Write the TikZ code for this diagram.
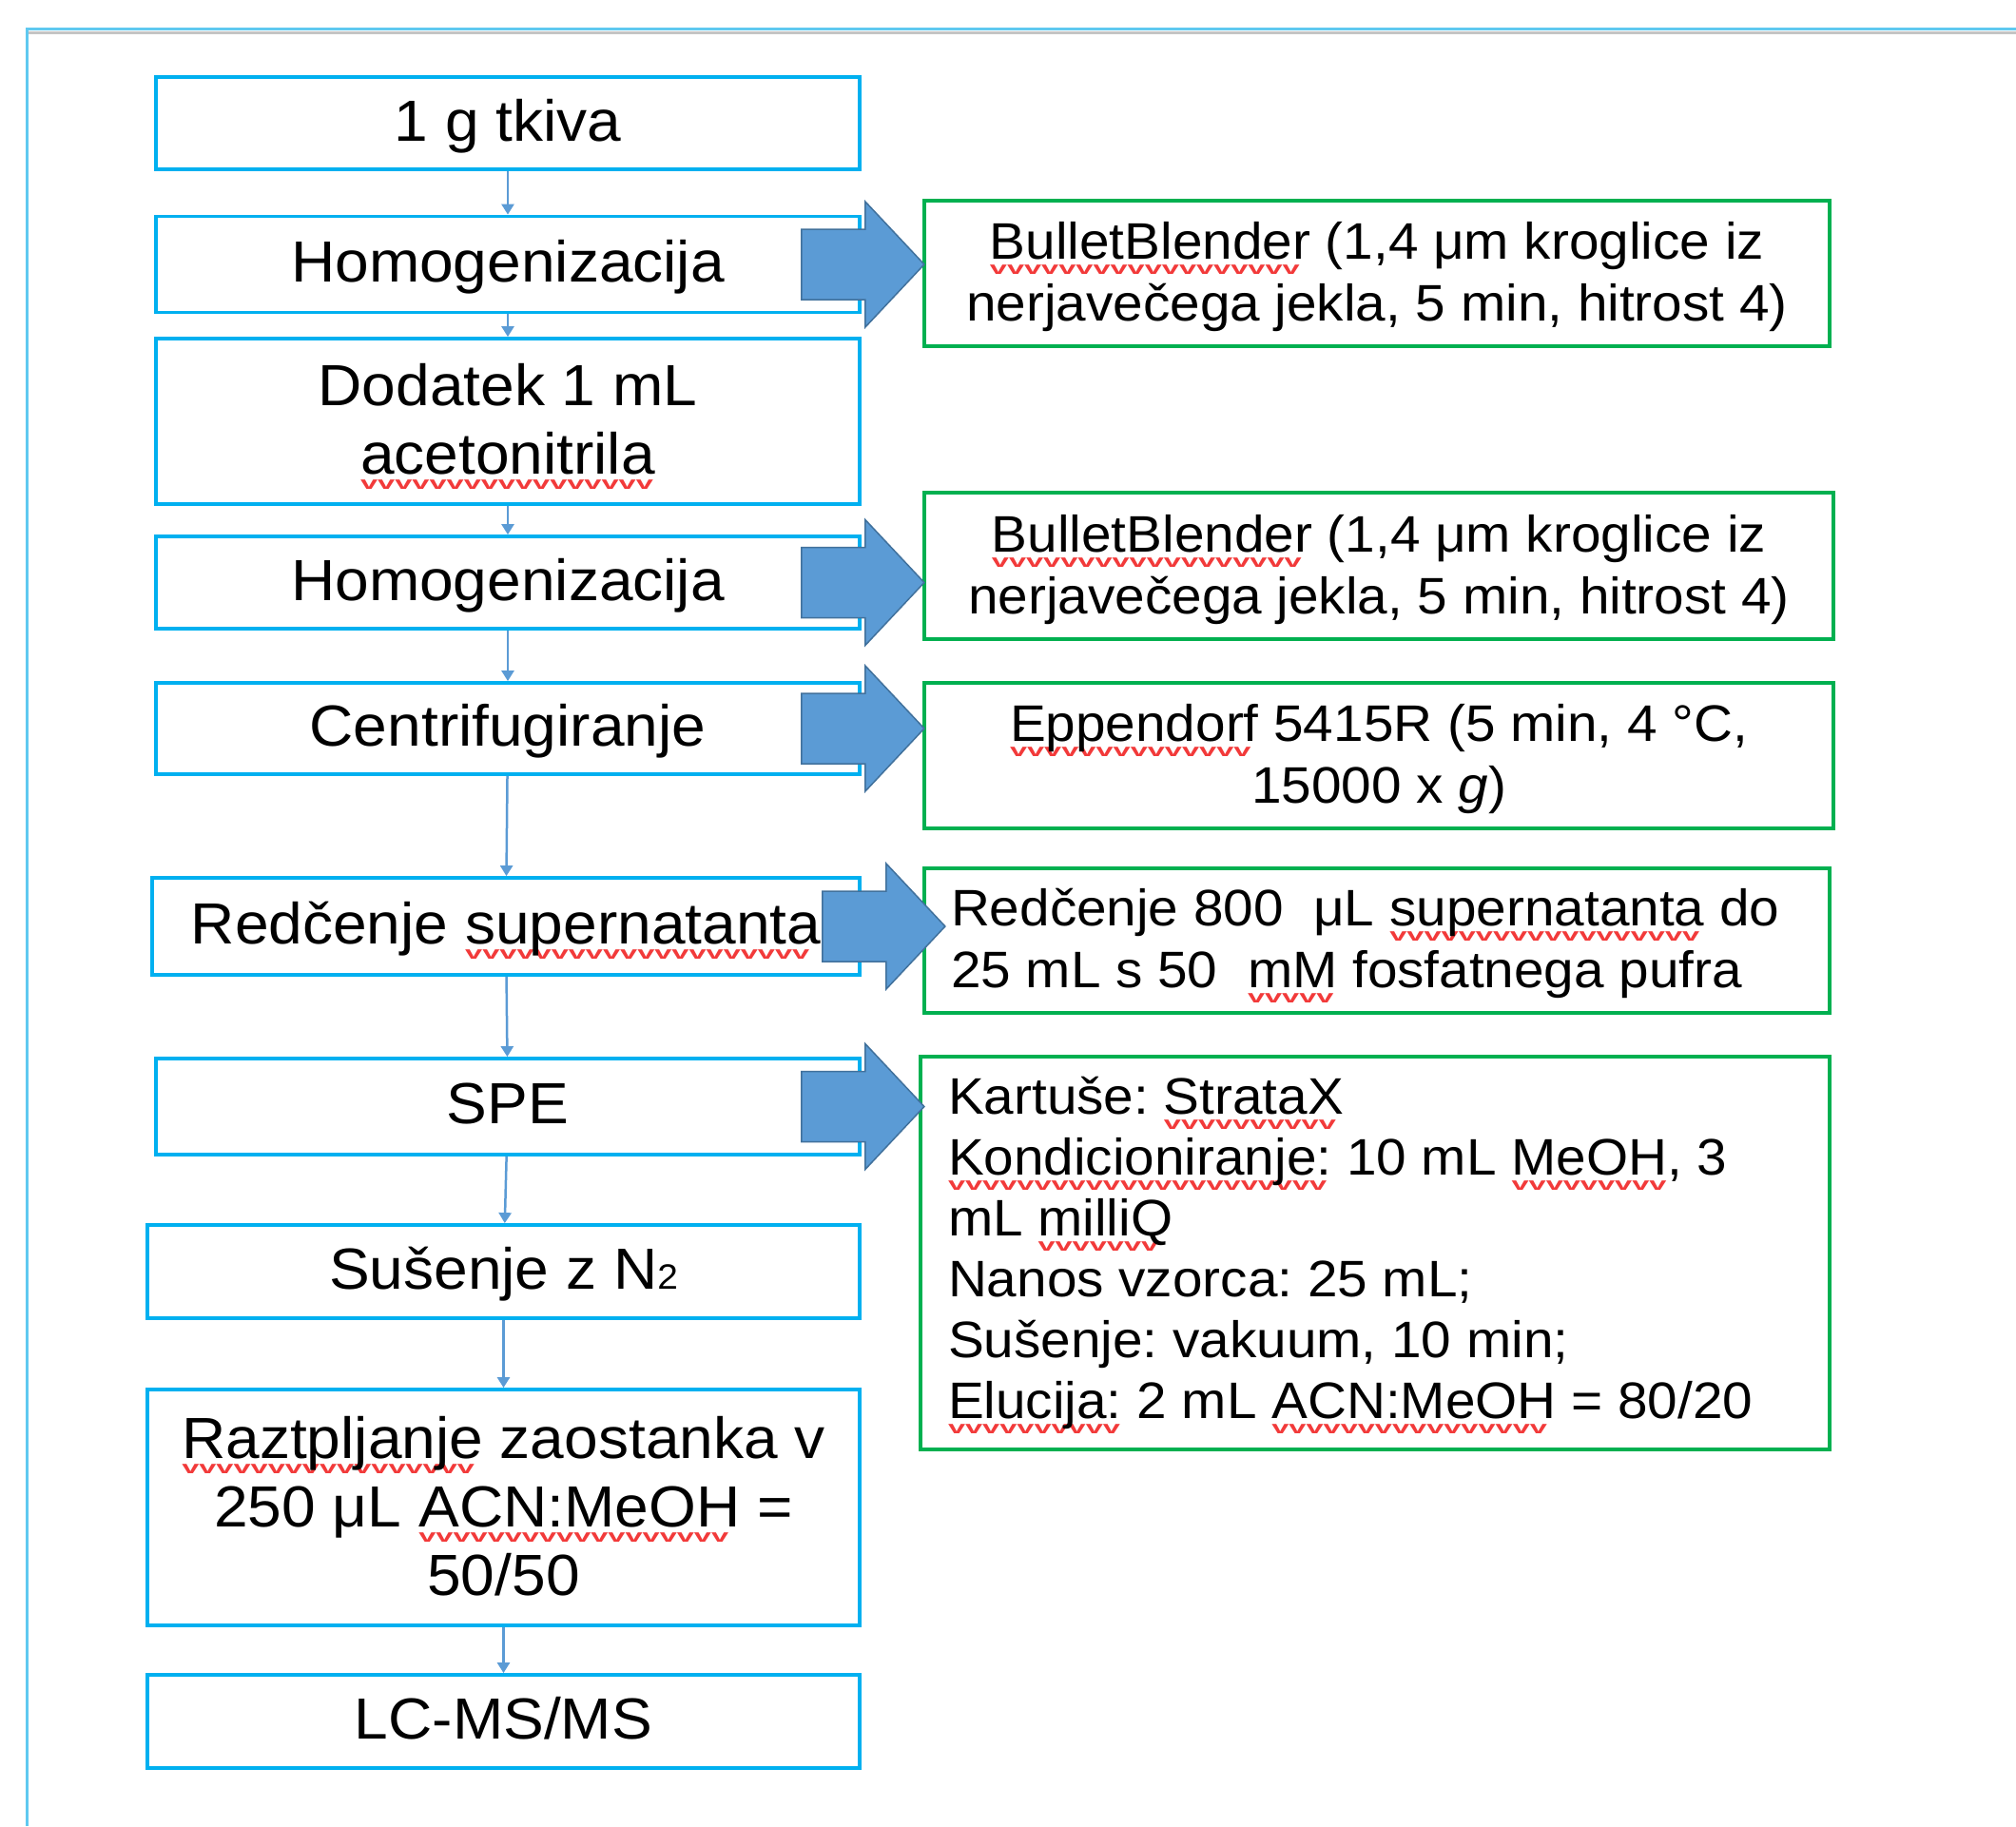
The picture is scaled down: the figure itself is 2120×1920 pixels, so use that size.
\documentclass[tikz,border=0pt]{standalone}
\usepackage{fontspec}
\setmainfont{Liberation Sans}[FakeStretch=1.05]
\usepackage{graphicx}
\usetikzlibrary{arrows.meta,calc}
\definecolor{cyanbox}{HTML}{00B0F0}
\definecolor{greenbox}{HTML}{00B050}
\definecolor{arrfill}{HTML}{5B9BD5}
\definecolor{arredge}{HTML}{41719C}
\definecolor{frameblue}{HTML}{5FC9F0}
\definecolor{framegrey}{HTML}{C4C4C4}
\definecolor{squig}{HTML}{F23A3A}
\frenchspacing
\newsavebox\sqbox
\newcommand\sqmark{\hbox{\textcolor{squig}{\scalebox{1}[0.6]{\fontsize{31}{31}\selectfont\bfseries v}}}}
\newcommand\sq[1]{\leavevmode\sbox\sqbox{#1}\rlap{\smash{\lower16pt\hbox to \wd\sqbox{\leaders\sqmark\hfill}}}\usebox\sqbox}
% centred lines, first baseline raised by #1 from the node centre
\newcommand\tc[2]{\raisebox{#1}[0pt][0pt]{\begin{tabular}[t]{@{}c@{}}#2\end{tabular}}}
% left-aligned lines in a box of width #2
\newcommand\tl[3]{\raisebox{#1}[0pt][0pt]{\makebox[#2][l]{\begin{tabular}[t]{@{}l@{}}#3\end{tabular}}}}
\newcommand\barr[2]{%
  \draw[barrow] let \p1=(#1.east) in
    (\x1+#2pt-67pt,\y1+37pt) -- (\x1+#2pt,\y1+37pt) -- (\x1+#2pt,\y1+66pt)
    -- (\x1+#2pt+62pt,\y1) -- (\x1+#2pt,\y1-66pt) -- (\x1+#2pt,\y1-37pt)
    -- (\x1+#2pt-67pt,\y1-37pt) -- cycle;}
\begin{document}
\begin{tikzpicture}[x=1pt,y=-1pt,
  lbox/.style={draw=cyanbox, line width=3.8pt, inner sep=0pt,
    font=\fontsize{61}{72}\selectfont, text=black},
  rbox/.style={draw=greenbox, line width=3.8pt, inner sep=0pt,
    font=\fontsize{54}{65}\selectfont, text=black},
  conn/.style={draw=arrfill, line width=2.5pt, -{Triangle[width=13pt,length=11pt]}},
  barrow/.style={fill=arrfill, draw=arredge, line width=1.5pt, line join=miter}]
\useasboundingbox (0,0) rectangle (2120,1920);
\fill[white] (0,0) rectangle (2120,1920);
% frame
\draw[framegrey, line width=3pt] (30,34) -- (2120,34);
\draw[frameblue, line width=3pt] (28,1920) -- (28,30) -- (2120,30);

% left column
\node[lbox, minimum width=740, minimum height=97]  (n1)  at (534,129.5) {\tc{-18.5pt}{1 g tkiva}};
\node[lbox, minimum width=740, minimum height=101] (n2)  at (534,278)   {\tc{-18.5pt}{Homogenizacija}};
\node[lbox, minimum width=740, minimum height=174] (n3)  at (534,443)   {\tc{16.5pt}{Dodatek 1 mL\\\sq{acetonitrila}}};
\node[lbox, minimum width=740, minimum height=97]  (n4)  at (534,612.5) {\tc{-18.5pt}{Homogenizacija}};
\node[lbox, minimum width=740, minimum height=96]  (n5)  at (534,766)   {\tc{-18.5pt}{Centrifugiranje}};
\node[lbox, minimum width=744, minimum height=102] (n6)  at (532,974)   {\tc{-18.5pt}{Redčenje \sq{supernatanta}}};
\node[lbox, minimum width=740, minimum height=101] (n7)  at (534,1163.5) {\tc{-18pt}{SPE}};
\node[lbox, minimum width=749, minimum height=98]  (n8)  at (529.5,1337) {\tc{-18.5pt}{Sušenje z N{\fontsize{37}{37}\selectfont 2}}};
\node[lbox, minimum width=749, minimum height=248] (n9)  at (529.5,1585) {\tc{51.5pt}{\sq{Raztpljanje} zaostanka v\\250 μL \sq{ACN:MeOH} =\\50/50}};
\node[lbox, minimum width=749, minimum height=98]  (n10) at (529.5,1810) {\tc{-18.5pt}{LC-MS/MS}};

% right column
\node[rbox, minimum width=952, minimum height=153] (a) at (1448,287.5)
  {\tc{14.8pt}{\sq{BulletBlender} (1,4 μm kroglice iz\\nerjavečega jekla, 5 min, hitrost 4)}};
\node[rbox, minimum width=956, minimum height=154] (b) at (1450,595)
  {\tc{14.8pt}{\sq{BulletBlender} (1,4 μm kroglice iz\\nerjavečega jekla, 5 min, hitrost 4)}};
\node[rbox, minimum width=956, minimum height=153] (c) at (1450,794.5)
  {\tc{14.8pt}{\sq{Eppendorf} 5415R (5 min, 4 °C,\\15000 x \textit{g})}};
\node[rbox, minimum width=952, minimum height=152] (d) at (1448,989)
  {\tl{15.7pt}{896pt}{Redčenje 800\ \ μL \sq{supernatanta} do\\25 mL s 50\ \ \sq{mM} fosfatnega pufra}};
\node[rbox, minimum width=956, minimum height=413, font=\fontsize{54}{64}\selectfont] (e) at (1446,1317.5)
  {\tl{145.8pt}{898pt}{Kartuše: \sq{StrataX}\\\sq{Kondicioniranje:} 10 mL \sq{MeOH,} 3\\mL \sq{milliQ}\\Nanos vzorca: 25 mL;\\Sušenje: vakuum, 10 min;\\\sq{Elucija:} 2 mL \sq{ACN:MeOH} = 80/20}};

% connectors
\draw[conn] (n1) -- (n2);
\draw[conn] (n2) -- (n3);
\draw[conn] (n3) -- (n4);
\draw[conn] (n4) -- (n5);
\draw[conn] (n5) -- (n6);
\draw[conn] (n6) -- (n7);
\draw[conn] (n7) -- (n8);
\draw[conn] (n8) -- (n9);
\draw[conn] (n9) -- (n10);

% block arrows
\barr{n2}{4}
\barr{n4}{4}
\barr{n5}{4}
\barr{n6}{26}
\barr{n7}{4}
\end{tikzpicture}
\end{document}
